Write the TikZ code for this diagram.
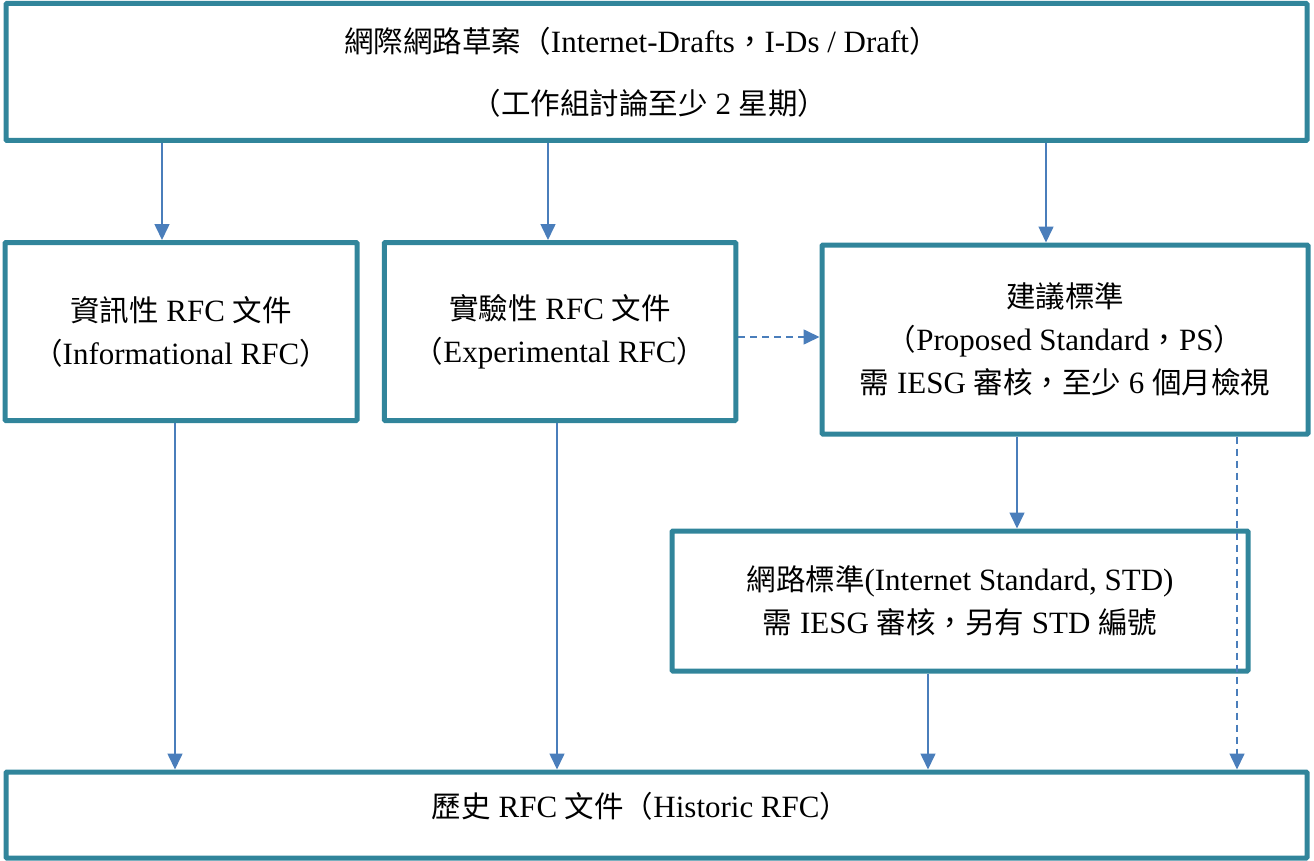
\documentclass[tikz,border=0pt]{standalone}
\usepackage{fontspec}
\setmainfont{Liberation Serif}[Scale=1.05]
\newfontfamily\cjk{Noto Sans CJK TC}
\newcommand{\zh}[1]{{\cjk #1}}
\usetikzlibrary{arrows.meta}
\definecolor{boxc}{RGB}{49,133,155}
\definecolor{arrc}{RGB}{74,126,187}
\begin{document}
\begin{tikzpicture}[x=1pt,y=-1pt,
  box/.style={draw=boxc,line width=5pt,rounded corners=1pt,inner sep=0pt,align=center,
    font=\fontsize{29.5}{43}\selectfont},
  arr/.style={draw=arrc,line width=1.6pt,-{Triangle[length=16pt,width=15pt]}},
  darr/.style={arr,dash pattern=on 7pt off 5pt}]
\useasboundingbox (0,0) rectangle (1314,861);
\node[box,minimum width=1301pt,minimum height=137pt] (top) at (656.5,72)
  {\hspace*{-30pt}\zh{網際網路草案（}Internet-Drafts\zh{，}I-Ds / Draft\zh{）}\\[19pt]\hspace*{-14pt}\zh{（工作組討論至少} 2 \zh{星期）}};
\node[box,minimum width=352pt,minimum height=178pt] (info) at (181,331.5)
  {\zh{資訊性} RFC \zh{文件}\\\zh{（}Informational RFC\zh{）}};
\node[box,minimum width=351.5pt,minimum height=178pt] (exp) at (560,331.5)
  {\zh{實驗性} RFC \zh{文件}\\\zh{（}Experimental RFC\zh{）}};
\node[box,minimum width=486pt,minimum height=189pt] (ps) at (1065,339.5)
  {\zh{建議標準}\\\zh{（}Proposed Standard\zh{，}PS\zh{）}\\\zh{需} IESG \zh{審核，至少} 6 \zh{個月檢視}};
\node[box,minimum width=576pt,minimum height=140pt] (std) at (960,601)
  {\zh{網路標準}(Internet Standard, STD)\\\zh{需} IESG \zh{審核，另有} STD \zh{編號}};
\node[box,minimum width=1301pt,minimum height=86pt,text depth=12pt] (hist) at (656.5,815)
  {\raisebox{8pt}{\hspace*{-32pt}\zh{歷史} RFC \zh{文件（}Historic RFC\zh{）}}};
\draw[arr] (top.south -| 162,0) -- (info.north -| 162,0);
\draw[arr] (top.south -| 548,0) -- (exp.north -| 548,0);
\draw[arr] (top.south -| 1046,0) -- (ps.north -| 1046,0);
\draw[darr] (exp.east |- 0,337) -- (ps.west |- 0,337);
\draw[arr] (ps.south -| 1017,0) -- (std.north -| 1017,0);
\draw[darr] (ps.south -| 1237,0) -- (hist.north -| 1237,0);
\draw[arr] (info.south -| 175,0) -- (hist.north -| 175,0);
\draw[arr] (exp.south -| 557,0) -- (hist.north -| 557,0);
\draw[arr] (std.south -| 928,0) -- (hist.north -| 928,0);
\end{tikzpicture}
\end{document}
